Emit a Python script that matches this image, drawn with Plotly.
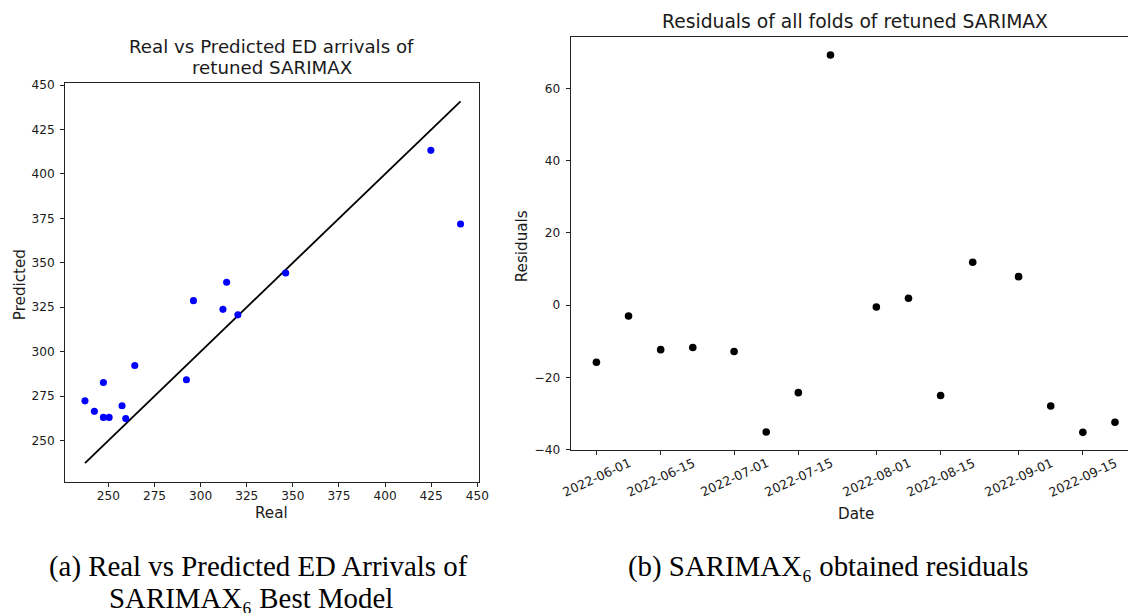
import plotly.graph_objects as go

# ---- data: left panel (real vs predicted) ----
real = [237.3, 242.4, 247.3, 247.3, 250.4, 257.4, 259.4, 264.3, 292.3, 296.1,
        312.1, 314.1, 320.2, 346.1, 424.8, 440.9]
predicted = [272.3, 266.4, 282.6, 263.0, 263.0, 269.5, 262.3, 292.2, 284.2, 328.7,
             323.8, 339.1, 320.7, 344.3, 413.3, 371.8]

# ---- data: right panel (residuals) ----
dates = ["2022-06-01", "2022-06-08", "2022-06-15", "2022-06-22", "2022-07-01",
         "2022-07-08", "2022-07-15", "2022-07-22", "2022-08-01", "2022-08-08",
         "2022-08-15", "2022-08-22", "2022-09-01", "2022-09-08", "2022-09-15",
         "2022-09-22"]
residuals = [-15.8, -3.0, -12.3, -11.7, -12.8, -35.1, -24.2, 69.25, -0.5, 1.9,
             -25.0, 11.9, 7.9, -27.9, -35.2, -32.4]

left_ticks = [250, 275, 300, 325, 350, 375, 400, 425, 450]
res_ticks = [-40, -20, 0, 20, 40, 60]
res_ticktext = ["\u221240", "\u221220", "0", "20", "40", "60"]
date_ticks = ["2022-06-01", "2022-06-15", "2022-07-01", "2022-07-15",
              "2022-08-01", "2022-08-15", "2022-09-01", "2022-09-15"]

W, H = 1128, 613
K = 1 / 0.9875  # compensate for the page being captured slightly wider
FIG_W, FIG_H = round(W * K), round(H * K)
FONT = "DejaVu Sans"
TXT = "#1a1a1a"


def px(x):
    return x / W


def py(y):
    return (H - y) / H


diag = [min(real), max(real)]

fig = go.Figure()
fig.add_trace(go.Scatter(x=diag, y=diag, mode="lines",
                         line=dict(color="black", width=1.8 * K),
                         xaxis="x", yaxis="y", showlegend=False))
fig.add_trace(go.Scatter(x=real, y=predicted, mode="markers",
                         marker=dict(color="#0000ff", size=7 * K, line=dict(width=0)),
                         xaxis="x", yaxis="y", showlegend=False))
fig.add_trace(go.Scatter(x=dates, y=residuals, mode="markers",
                         marker=dict(color="black", size=7.5 * K, line=dict(width=0)),
                         xaxis="x2", yaxis="y2", showlegend=False))

axis_common = dict(showline=True, linecolor="#222", linewidth=1, ticks="outside",
                   ticklen=4 * K, tickwidth=1, tickcolor="#222", showgrid=False,
                   zeroline=False, tickfont=dict(family=FONT, size=12 * K, color=TXT))

fig.update_layout(
    width=FIG_W, height=FIG_H, autosize=False, margin=dict(l=0, r=0, t=0, b=0, pad=0),
    paper_bgcolor="white", plot_bgcolor="white", showlegend=False,
    xaxis=dict(domain=[px(65), px(477.3)], anchor="y", range=[226.6, 450.9],
               tickvals=left_ticks, mirror=True, ticklabelstandoff=-2, **axis_common),
    yaxis=dict(domain=[py(480), py(78.7)], anchor="x", range=[226.7, 451.1],
               tickvals=left_ticks, mirror=True, ticklabelstandoff=3, **axis_common),
    xaxis2=dict(domain=[px(568.7), 1.0], anchor="y2", type="date",
                range=["2022-05-26 09:36", "2022-09-25 17:00"],
                tickvals=date_ticks, showticklabels=False, mirror=True, **axis_common),
    yaxis2=dict(domain=[py(448), py(32.3)], anchor="x2", range=[-40.1, 74.2],
                tickvals=res_ticks, ticktext=res_ticktext, mirror=False,
                ticklabelstandoff=3, **axis_common),
)

ann = []


def text(x, y, s, size, family=FONT, angle=0, xref="paper", color=TXT):
    ann.append(dict(x=x, y=y, xref=xref, yref="paper", text=s, showarrow=False,
                    xanchor="center", yanchor="middle", textangle=angle,
                    font=dict(family=family, size=size * K, color=color)))


# titles
text(px(271), py(41.5), "Real vs Predicted ED arrivals of", 18)
text(px(271), py(62.5), "retuned SARIMAX", 18)
text(px(852), py(16.5), "Residuals of all folds of retuned SARIMAX", 18.5)
# axis labels
text(px(271), py(511.5), "Real", 15)
text(px(19.5), py(281.5), "Predicted", 15, angle=-90)
text(px(853), py(512), "Date", 15)
text(px(521), py(243), "Residuals", 15, angle=-90)
# rotated date tick labels
for d in date_ticks:
    text(d, py(475.5), d, 12.5, angle=-25, xref="x2")
# captions
SERIF = "Liberation Serif"
text(px(257.5), py(565), "(a) Real vs Predicted ED Arrivals of", 28.5, family=SERIF, color="black")
text(px(250), py(596.5), "SARIMAX\u2086 Best Model", 28.5, family=SERIF, color="black")
text(px(825), py(565), "(b) SARIMAX\u2086 obtained residuals", 28.5, family=SERIF, color="black")

fig.update_layout(annotations=ann)
fig.write_html("out.html", config={"responsive": False})
